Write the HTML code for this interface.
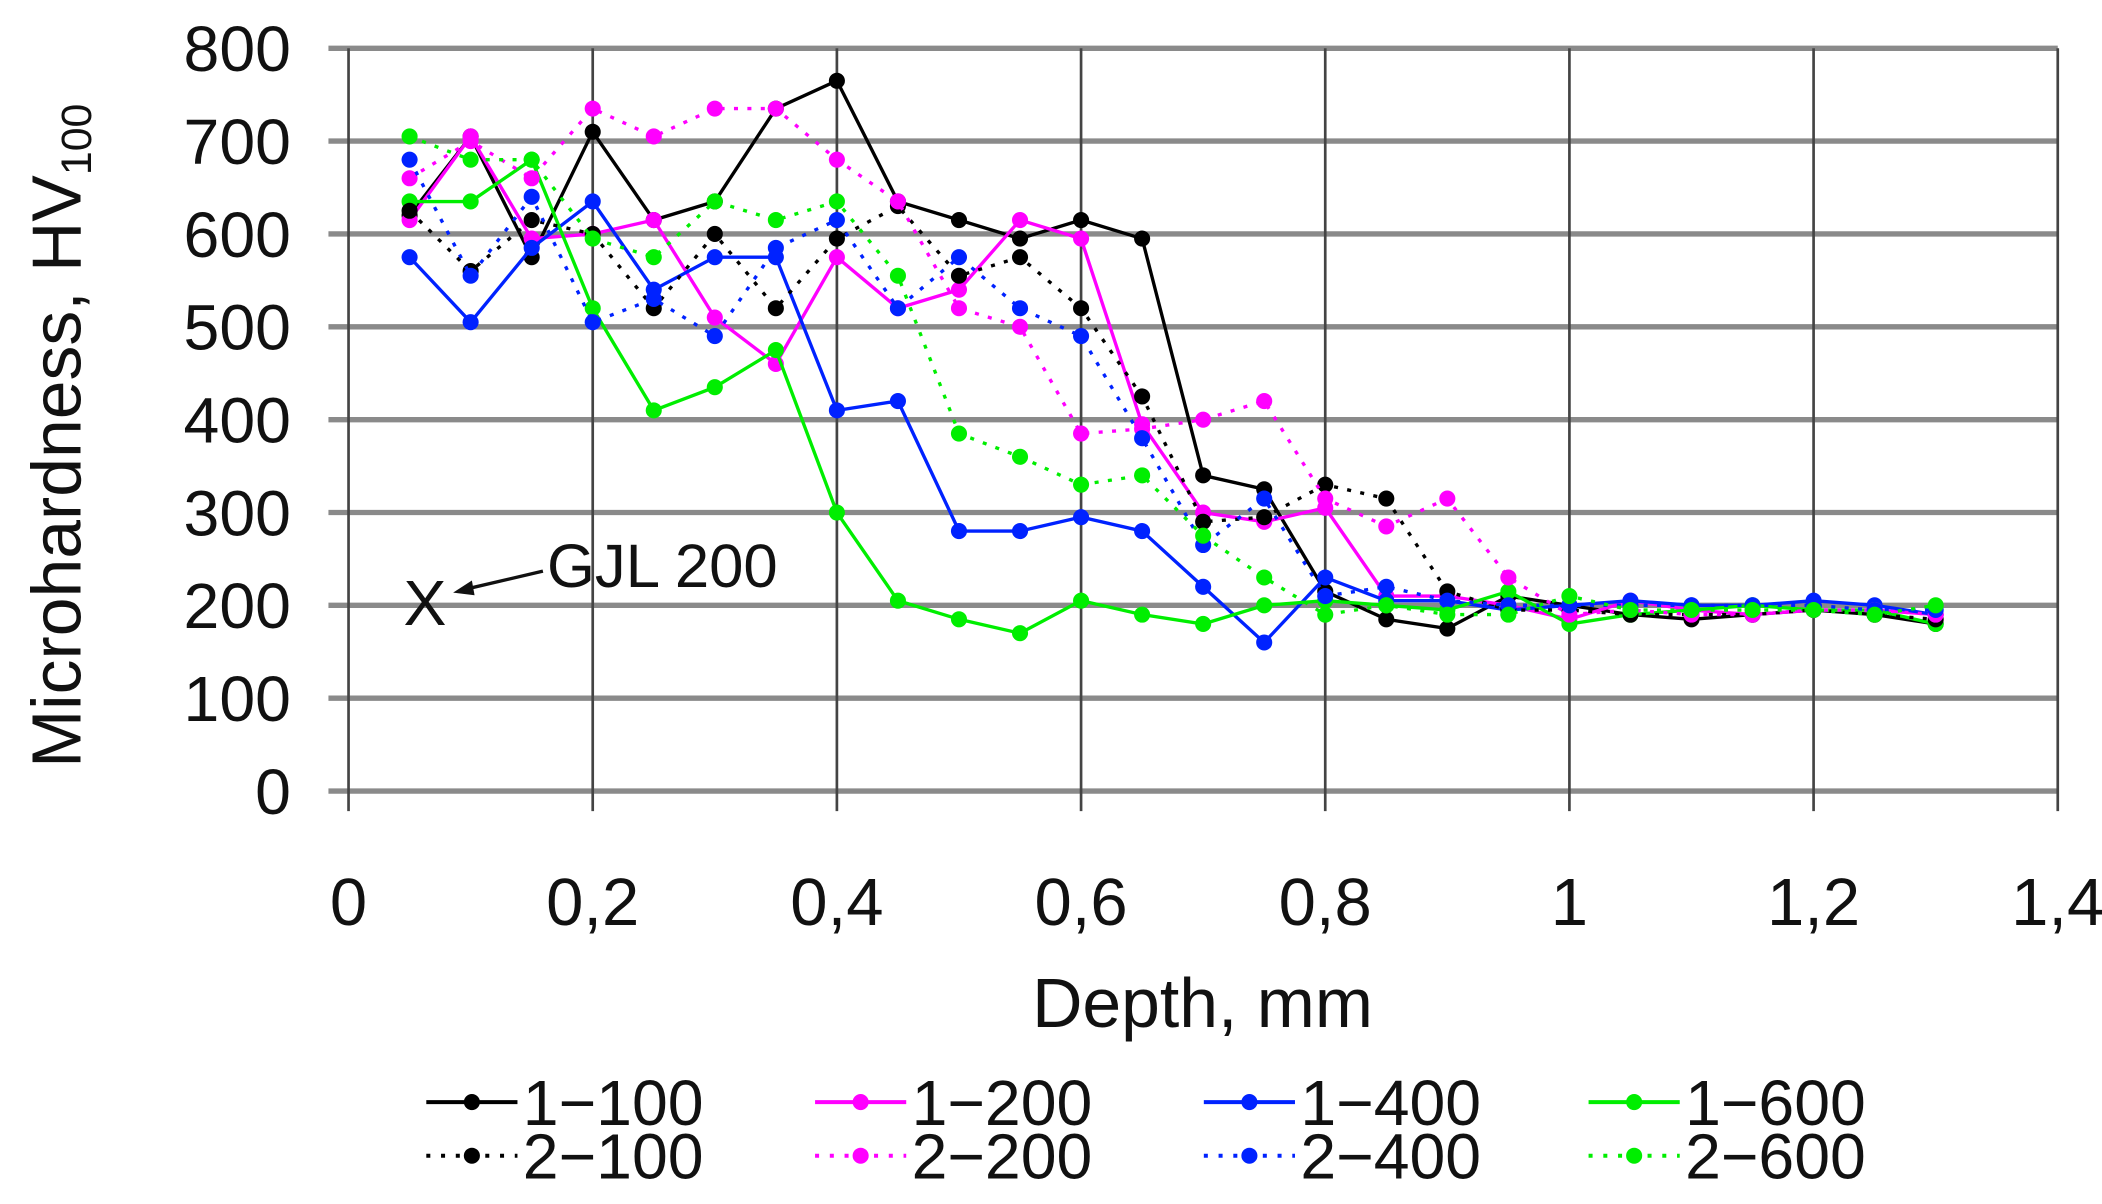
<!DOCTYPE html>
<html><head><meta charset="utf-8"><style>
html,body{margin:0;padding:0;background:#fff;}
svg{display:block;}
text{font-family:"Liberation Sans",sans-serif;fill:#111;}
</style></head><body>
<svg id="s" width="2102" height="1204" viewBox="0 0 1568 898" preserveAspectRatio="none" xmlns="http://www.w3.org/2000/svg">
<g id="grid"></g>
<g id="series"></g>
<g id="labels">
<text x="317" y="466" font-size="48" text-anchor="middle">X</text>
<line x1="405" y1="426" x2="345" y2="440" stroke="#111" stroke-width="2.5"/>
<polygon points="338,442 352,433 354,444" fill="#111"/>
<text x="408" y="438" font-size="46">GJL 200</text>
<text x="897" y="766" font-size="52" text-anchor="middle">Depth, mm</text>
<text transform="translate(60,325) rotate(-90)" font-size="52" text-anchor="middle">Microhardness, HV<tspan font-size="32" dy="8">100</tspan></text>
</g>
<g id="legend"></g>
</svg>
<script>
var NS="http://www.w3.org/2000/svg";
function el(p,t,a,txt){var e=document.createElementNS(NS,t);for(var k in a)e.setAttribute(k,a[k]);if(txt!=null)e.textContent=txt;p.appendChild(e);return e;}
var g=document.getElementById('grid'),sg=document.getElementById('series'),lg=document.getElementById('legend');
function X(v){return 260+v*(1275/1.4);}
function Y(v){return 590-v*0.6925;}
for(var i=0;i<=8;i++){var y=Y(i*100);
 el(g,'line',{x1:245,x2:1535,y1:y,y2:y,stroke:'#8a8a8a','stroke-width':4});
 el(g,'text',{x:217,y:y+17,'font-size':48,'text-anchor':'end'},String(i*100));}
var xl=['0','0,2','0,4','0,6','0,8','1','1,2','1,4'];
for(var i=0;i<=7;i++){var x=X(i*0.2);
 el(g,'line',{x1:x,x2:x,y1:36,y2:605,stroke:'#444','stroke-width':2});
 el(g,'text',{x:x,y:690,'font-size':50,'text-anchor':'middle'},xl[i]);}
var D=[
['#000',0,[620,705,575,710,615,635,735,765,635,615,595,615,595,340,325,215,185,175,210,200,190,185,190,195,190,180]],
['#ff00ff',0,[615,705,595,600,615,510,460,575,520,540,615,595,395,300,290,305,210,210,200,185,205,195,190,195,195,190]],
['#0022ff',0,[575,505,585,635,540,575,575,410,420,280,280,295,280,220,160,230,205,205,195,200,205,200,200,205,200,190]],
['#00ee00',0,[635,635,680,520,410,435,475,300,205,185,170,205,190,180,200,205,200,195,215,180,190,195,200,195,195,180]],
['#000',1,[625,560,615,600,520,600,520,595,630,555,575,520,425,290,295,330,315,215,195,195,190,190,190,195,190,185]],
['#ff00ff',1,[660,700,660,735,705,735,735,680,635,520,500,385,390,400,420,315,285,315,230,190,195,190,190,195,195,190]],
['#0022ff',1,[680,555,640,505,530,490,585,615,520,575,520,490,380,265,315,210,220,205,200,200,200,200,200,200,195,195]],
['#00ee00',1,[705,680,680,595,575,635,615,635,555,385,360,330,340,275,230,190,200,190,190,210,195,195,195,195,190,200]]];
D.forEach(function(s){var pts=s[2].map(function(v,i){return X(0.05*(i+1)).toFixed(1)+','+Y(v).toFixed(1);});
 var a={points:pts.join(' '),fill:'none',stroke:s[0],'stroke-width':2.5};
 if(s[1])a['stroke-dasharray']='3,7';
 el(sg,'polyline',a);
 s[2].forEach(function(v,i){el(sg,'circle',{cx:X(0.05*(i+1)),cy:Y(v),r:6,fill:s[0]});});});
var cols=['#000','#ff00ff','#0022ff','#00ee00'],names=['100','200','400','600'],lx=[318,608,898,1185];
for(var r=0;r<2;r++)for(var c=0;c<4;c++){var y=r?862:822;var a={x1:lx[c],x2:lx[c]+68,y1:y,y2:y,stroke:cols[c],'stroke-width':3};
 if(r)a['stroke-dasharray']='3,8';el(lg,'line',a);
 el(lg,'circle',{cx:lx[c]+34,cy:y,r:6,fill:cols[c]});
 el(lg,'text',{x:lx[c]+72,y:y+17,'font-size':48},(r+1)+'\u2212'+names[c]);}
</script>
</body></html>
